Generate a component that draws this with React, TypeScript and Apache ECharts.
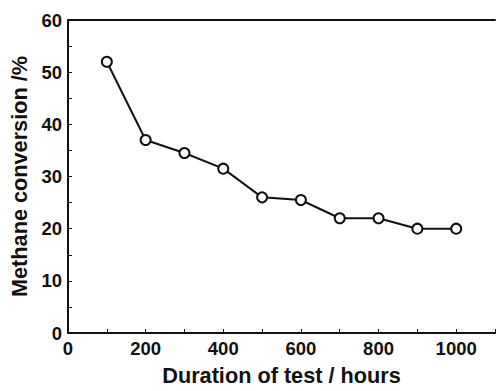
import React, { useEffect, useRef } from "react";
import * as echarts from "echarts";

const durationHours = [100, 200, 300, 400, 500, 600, 700, 800, 900, 1000];
const methaneConversion = [52, 37, 34.5, 31.5, 26, 25.5, 22, 22, 20, 20];
const xTickValues = [0, 200, 400, 600, 800, 1000];
const yTickValues = [0, 10, 20, 30, 40, 50, 60];

const FONT = "'Liberation Sans', Arial, Helvetica, sans-serif";
const INK = "#111";

export default function App() {
  const ref = useRef<HTMLDivElement>(null);
  useEffect(() => {
    if (!ref.current) return;
    const chart = echarts.init(ref.current, undefined, { renderer: "svg" });
    const xShown = new Set(xTickValues);
    const yShown = new Set(yTickValues);
    chart.setOption({
      animation: false,
      backgroundColor: "#fff",
      grid: { left: 68, top: 20, width: 429, height: 320, containLabel: false },
      xAxis: [
        {
          type: "value",
          min: 0,
          max: 1100,
          interval: 100,
          name: "Duration of test / hours",
          nameLocation: "middle",
          nameGap: 31,
          nameTextStyle: { fontFamily: FONT, fontWeight: "bold", fontSize: 21.7, color: INK },
          axisLine: { show: true, onZero: false, lineStyle: { color: INK, width: 2 } },
          axisTick: { show: true, inside: true, length: 4, lineStyle: { color: INK, width: 1 } },
          splitLine: { show: false },
          axisLabel: {
            margin: 6,
            fontFamily: FONT,
            fontWeight: "bold",
            fontSize: 18.5,
            color: INK,
            formatter: (v: number) => (xShown.has(v) ? String(v) : ""),
          },
        },
        {
          type: "value",
          position: "top",
          min: 0,
          max: 1100,
          axisLine: { show: true, onZero: false, lineStyle: { color: INK, width: 2 } },
          axisTick: { show: false },
          axisLabel: { show: false },
          splitLine: { show: false },
        },
      ],
      yAxis: {
        type: "value",
        min: 0,
        max: 60,
        interval: 5,
        name: "Methane conversion /%",
        nameLocation: "middle",
        nameGap: 36,
        nameRotate: 90,
        nameTextStyle: { fontFamily: FONT, fontWeight: "bold", fontSize: 21.7, color: INK },
        axisLine: { show: true, onZero: false, lineStyle: { color: INK, width: 2 } },
        axisTick: { show: true, inside: true, length: 4, lineStyle: { color: INK, width: 1 } },
        splitLine: { show: false },
        axisLabel: {
          margin: 6,
          fontFamily: FONT,
          fontWeight: "bold",
          fontSize: 18.5,
          color: INK,
          formatter: (v: number) => (yShown.has(v) ? String(v) : ""),
        },
      },
      series: [
        {
          type: "line",
          data: durationHours.map((x, i) => [x, methaneConversion[i]]),
          symbol: "emptyCircle",
          symbolSize: 10,
          lineStyle: { color: INK, width: 2 },
          itemStyle: { color: INK, borderColor: INK, borderWidth: 1.5 },
        },
      ],
    });
    return () => chart.dispose();
  }, []);
  return (
    <div
      ref={ref}
      style={{ position: "fixed", left: 0, top: 0, width: 498, height: 391, background: "#fff" }}
    />
  );
}
